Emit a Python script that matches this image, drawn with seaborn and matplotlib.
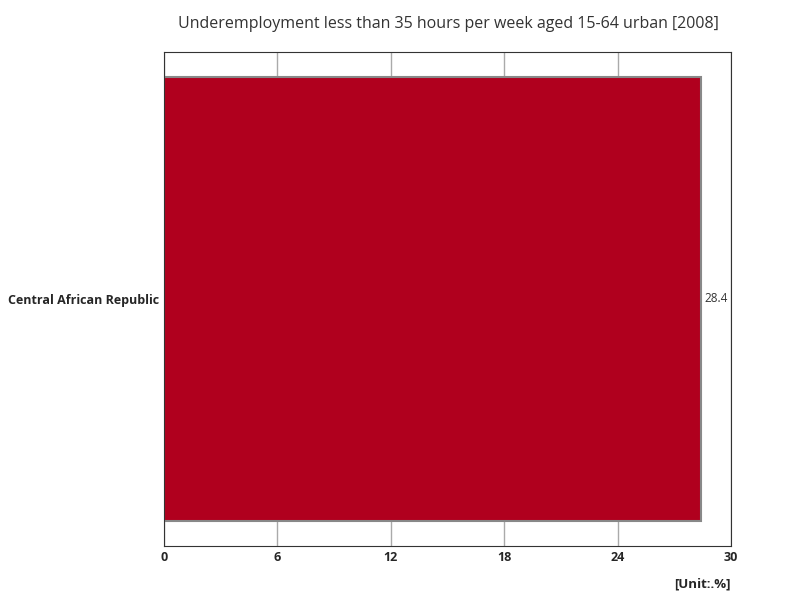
import matplotlib
matplotlib.use("Agg")
import matplotlib.pyplot as plt
import seaborn as sns
import pandas as pd

countries = ["Central African Republic"]
values = [28.4]
xticks = [0, 6, 12, 18, 24, 30]

sns.set_style("white")
plt.rcParams['font.family'] = ['Open Sans', 'DejaVu Sans']

fig = plt.figure(figsize=(8, 6), dpi=100)
ax = fig.add_axes([164/800, 1-546/600, (731-164)/800, (546-52)/600])
df = pd.DataFrame({"country": countries, "value": values})
sns.barplot(data=df, x="value", y="country", orient="h", color="#B0001E",
            saturation=1, width=0.9, edgecolor="#888888", linewidth=1.5, ax=ax, zorder=2)
ax.set_xlim(0, 30)
ax.set_ylim(0.5, -0.5)
ax.set_xticks(xticks)
ax.set_xticklabels([str(t) for t in xticks], fontsize=9)
ax.tick_params(axis='y', labelsize=9, length=0)
for lbl in ax.get_yticklabels():
    lbl.set_fontweight('bold')
for lbl in ax.get_xticklabels():
    lbl.set_fontweight('bold')
ax.tick_params(axis='x', length=0)
ax.grid(axis='x', color="#aaaaaa", linewidth=1, zorder=0)
ax.set_axisbelow(True)
for s in ax.spines.values():
    s.set_color("#333333")
ax.set_xlabel("")
ax.set_ylabel("")
for i, v in enumerate(values):
    ax.text(v + 0.2, i, f"{v}", va="center", ha="left", fontsize=8.5, color="#333333")
fig.text(448/800, 1-24/600, "Underemployment less than 35 hours per week aged 15-64 urban [2008]",
         ha="center", va="center", fontsize=11.5, color="#333333")
fig.text(731/800, 1-584/600, "[Unit:.%]", ha="right", va="center", fontsize=9.5, fontweight="bold")
fig.savefig("out.png", dpi=100)
